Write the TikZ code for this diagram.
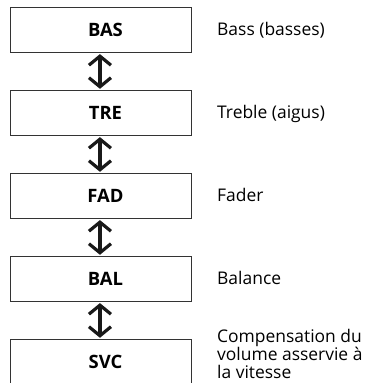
\documentclass[tikz,border=0pt]{standalone}
\usepackage{fontspec}
\setmainfont{Open Sans}
\usetikzlibrary{arrows.meta}
\begin{document}
\begin{tikzpicture}[x=1bp,y=-1bp,
  stepbox/.style={draw=black!80,line width=0.9bp,minimum width=181bp,minimum height=45bp,
    inner sep=0pt,font=\fontsize{18.5}{18}\selectfont\bfseries,anchor=north west},
  desc/.style={anchor=base west,align=left,inner sep=0pt,font=\fontsize{17.5}{18}\selectfont},
  dbl/.style={line width=3.2bp,black!90,
    {Straight Barb[length=9bp,width=22bp,line cap=butt]}-{Straight Barb[length=9bp,width=22bp]},
    shorten <=1.2bp,shorten >=1.2bp}]
\useasboundingbox (0,0) rectangle (371,383);
\node[stepbox] (bas) at (10,7) {\hspace*{9bp}BAS};
\node[stepbox] (tre) at (10,90) {\hspace*{9bp}TRE};
\node[stepbox] (fad) at (10,173) {\hspace*{9bp}FAD};
\node[stepbox] (bal) at (10,256) {\hspace*{9bp}BAL};
\node[stepbox] (svc) at (10,339) {\hspace*{9bp}SVC};
\draw[dbl] ([xshift=-1bp]bas.south) -- ([xshift=-1bp]tre.north);
\draw[dbl] ([xshift=-1bp]tre.south) -- ([xshift=-1bp]fad.north);
\draw[dbl] ([xshift=-1bp]fad.south) -- ([xshift=-1bp]bal.north);
\draw[dbl] ([xshift=-1bp]bal.south) -- ([xshift=-1bp]svc.north);
\node[desc] (dbas) at (217,35) {Bass (basses)};
\node[desc] (dtre) at (217,118) {Treble (aigus)};
\node[desc] (dfad) at (217,201) {Fader};
\node[desc] (dbal) at (217,284) {Balance};
\node[desc] (dsvc) at (217,378.5) {Compensation du\\volume asservie à\\la vitesse};
\end{tikzpicture}
\end{document}
